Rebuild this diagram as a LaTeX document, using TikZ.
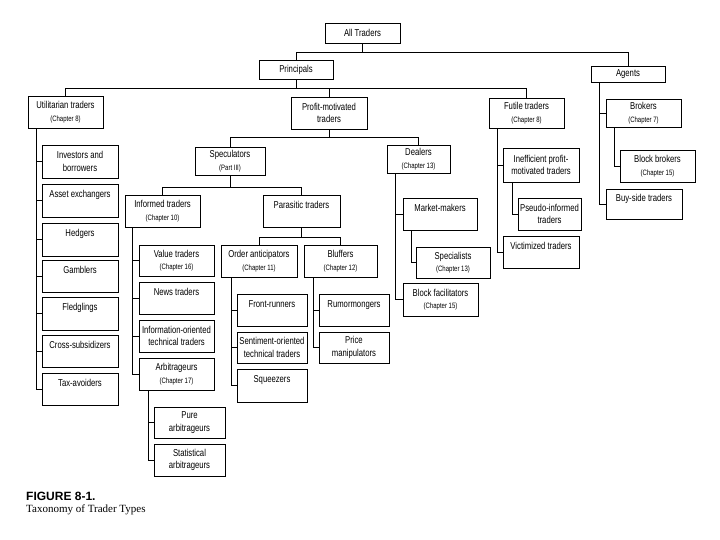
\documentclass[tikz,border=0pt]{standalone}
\usepackage{fontspec}
\setsansfont{Liberation Sans}[FakeStretch=0.77]
\newfontfamily\figfont{Liberation Sans}
\newfontfamily\capfont{Liberation Serif}

\newcommand{\chap}[1]{{\fontsize{7.8}{12.5}\selectfont #1}}

\tikzset{
  tbox/.style={draw, line width=0.8pt, fill=white, minimum width=75pt,
    minimum height=32pt, inner sep=1pt, align=center,
    font=\sffamily\fontsize{10}{12.5}\selectfont},
  link/.style={line width=0.9pt},
}

\begin{document}
\begin{tikzpicture}[x=1pt, y=-1pt]
    \useasboundingbox[fill=white] (0,0) rectangle (720,540);

    % top levels
    \node[tbox, minimum height=20pt] (alltr) at (362.5,33) {All Traders};
    \node[tbox, minimum width=74pt, minimum height=19pt] (princ) at (296,69.5) {Principals};
    \node[tbox, minimum width=74pt, minimum height=16pt] (agents) at (628,74) {Agents};

    \node[tbox] (util) at (65.5,112) {Utilitarian traders\\\chap{(Chapter 8)}};
    \node[tbox, minimum width=76pt] (profit) at (329,113) {Profit-motivated\\traders};
    \node[tbox, minimum height=30pt] (futile) at (526.5,113) {Futile traders\\\chap{(Chapter 8)}};
    \node[tbox, minimum height=28pt] (brokers) at (643.5,113) {Brokers\\\chap{(Chapter 7)}};

    % utilitarian traders
    \node[tbox, minimum width=76pt, minimum height=33pt] (invest) at (80,161.5) {Investors and\\borrowers};
    \node[tbox, minimum width=76pt, minimum height=33pt] (asset) at (80,200.5) {Asset exchangers\\~};
    \node[tbox, minimum width=76pt, minimum height=33pt] (hedgers) at (80,239.5) {Hedgers\\~};
    \node[tbox, minimum width=76pt] (gamblers) at (80,276) {Gamblers\\~};
    \node[tbox, minimum width=76pt, minimum height=33pt] (fledgl) at (80,313.5) {Fledglings\\~};
    \node[tbox, minimum width=76pt] (cross) at (80,351) {Cross-subsidizers\\~};
    \node[tbox, minimum width=76pt] (tax) at (80,389) {Tax-avoiders\\~};

    % profit-motivated traders
    \node[tbox, minimum width=70pt, minimum height=28pt] (specul) at (230,161) {Speculators\\\chap{(Part III)}};
    \node[tbox, minimum width=63pt, minimum height=28pt] (dealers) at (418.5,159) {Dealers\\\chap{(Chapter 13)}};
    \node[tbox] (informed) at (162.5,211) {Informed traders\\\chap{(Chapter 10)}};
    \node[tbox, minimum width=77pt] (parasit) at (301.5,211) {Parasitic traders\\~};

    \node[tbox, minimum height=31pt] (value) at (176.5,260.5) {Value traders\\\chap{(Chapter 16)}};
    \node[tbox] (news) at (176.5,298) {News traders\\~};
    \node[tbox] (infoor) at (176.5,336) {Information-oriented\\technical traders};
    \node[tbox] (arbit) at (176.5,374) {Arbitrageurs\\\chap{(Chapter 17)}};
    \node[tbox, minimum width=71pt, minimum height=31pt] (pure) at (189.5,422.5) {Pure\\arbitrageurs};
    \node[tbox, minimum width=71pt] (stat) at (189.5,460) {Statistical\\arbitrageurs};

    \node[tbox, minimum width=76pt] (orderant) at (259,261) {Order anticipators\\\chap{(Chapter 11)}};
    \node[tbox, minimum width=73pt] (bluffers) at (340.5,261) {Bluffers\\\chap{(Chapter 12)}};
    \node[tbox, minimum width=70pt] (front) at (272,310) {Front-runners\\~};
    \node[tbox, minimum width=70pt, minimum height=31pt] (sentim) at (272,347.5) {Sentiment-oriented\\technical traders};
    \node[tbox, minimum width=70pt, minimum height=33pt] (squeez) at (272,385.5) {Squeezers\\~};
    \node[tbox, minimum width=70pt] (rumor) at (354,310) {Rumormongers\\~};
    \node[tbox, minimum width=70pt, minimum height=31pt] (price) at (354,347.5) {Price\\manipulators};

    \node[tbox, minimum width=74pt] (mm) at (440,214) {Market-makers\\~};
    \node[tbox, minimum width=74pt, minimum height=31pt] (special) at (453,262.5) {Specialists\\\chap{(Chapter 13)}};
    \node[tbox, minimum height=33pt] (blockfac) at (440.5,299.5) {Block facilitators\\\chap{(Chapter 15)}};

    % futile traders
    \node[tbox, minimum width=76pt, minimum height=34pt] (ineff) at (541,165) {Inefficient profit-\\motivated traders};
    \node[tbox, minimum width=63pt] (pseudo) at (549.5,214) {Pseudo-informed\\traders};
    \node[tbox, minimum width=76pt] (victim) at (541,252) {Victimized traders\\~};

    % agents
    \node[tbox] (blockbr) at (657.5,166) {Block brokers\\\chap{(Chapter 15)}};
    \node[tbox, minimum width=76pt, minimum height=30pt] (buyside) at (644,204) {Buy-side traders\\~};

    % buses
    \coordinate (bus1) at (0,52);
    \coordinate (bus2) at (0,88);
    \coordinate (bus3) at (0,137);
    \coordinate (bus4) at (0,187);
    \coordinate (bus5) at (0,237);
    \draw[link] (alltr.south) -- (alltr.south |- bus1);
    \draw[link] (princ.north) |- (agents.north |- bus1) -- (agents.north);
    \draw[link] (princ.south) -- (princ.south |- bus2);
    \draw[link] (util.north) |- (futile.north |- bus2) -- (futile.north);
    \draw[link] (profit.north) -- (profit.north |- bus2);
    \draw[link] (profit.south) -- (profit.south |- bus3);
    \draw[link] (specul.north) |- (dealers.north |- bus3) -- (dealers.north);
    \draw[link] (specul.south) -- (specul.south |- bus4);
    \draw[link] (informed.north) |- (parasit.north |- bus4) -- (parasit.north);
    \draw[link] (parasit.south) -- (parasit.south |- bus5);
    \draw[link] (orderant.north) |- (bluffers.north |- bus5) -- (bluffers.north);

    % spines
    \coordinate (utilsp) at ([xshift=9pt]util.south west);
    \coordinate (agentsp) at ([xshift=9pt]agents.south west);
    \coordinate (brokersp) at ([xshift=9pt]brokers.south west);
    \coordinate (futilesp) at ([xshift=9pt]futile.south west);
    \coordinate (ineffsp) at ([xshift=10pt]ineff.south west);
    \coordinate (informedsp) at ([xshift=8pt]informed.south west);
    \coordinate (orderantsp) at ([xshift=11pt]orderant.south west);
    \coordinate (blufferssp) at ([xshift=10pt]bluffers.south west);
    \coordinate (dealerssp) at ([xshift=9pt]dealers.south west);
    \coordinate (mmsp) at ([xshift=9pt]mm.south west);
    \coordinate (arbitsp) at ([xshift=10pt]arbit.south west);

    \foreach \c in {invest,asset,hedgers,gamblers,fledgl,cross,tax}
        \draw[link] (utilsp) |- (\c.west);
    \foreach \c in {brokers,buyside}
        \draw[link] (agentsp) |- (\c.west);
    \draw[link] (brokersp) |- (blockbr.west);
    \foreach \c in {ineff,victim}
        \draw[link] (futilesp) |- (\c.west);
    \draw[link] (ineffsp) |- (pseudo.west);
    \foreach \c in {value,news,infoor,arbit}
        \draw[link] (informedsp) |- (\c.west);
    \foreach \c in {front,sentim,squeez}
        \draw[link] (orderantsp) |- (\c.west);
    \foreach \c in {rumor,price}
        \draw[link] (blufferssp) |- (\c.west);
    \foreach \c in {mm,blockfac}
        \draw[link] (dealerssp) |- (\c.west);
    \draw[link] (mmsp) |- (special.west);
    \foreach \c in {pure,stat}
        \draw[link] (arbitsp) |- (\c.west);

    % caption
    \node[anchor=base west, inner sep=0pt, font=\figfont\bfseries\fontsize{12}{14}\selectfont] (fig) at (26,500) {FIGURE 8-1.};
    \node[anchor=base west, inner sep=0pt, font=\capfont\fontsize{11}{13}\selectfont] (title) at (26,512) {Taxonomy of Trader Types};
\end{tikzpicture}
\end{document}
